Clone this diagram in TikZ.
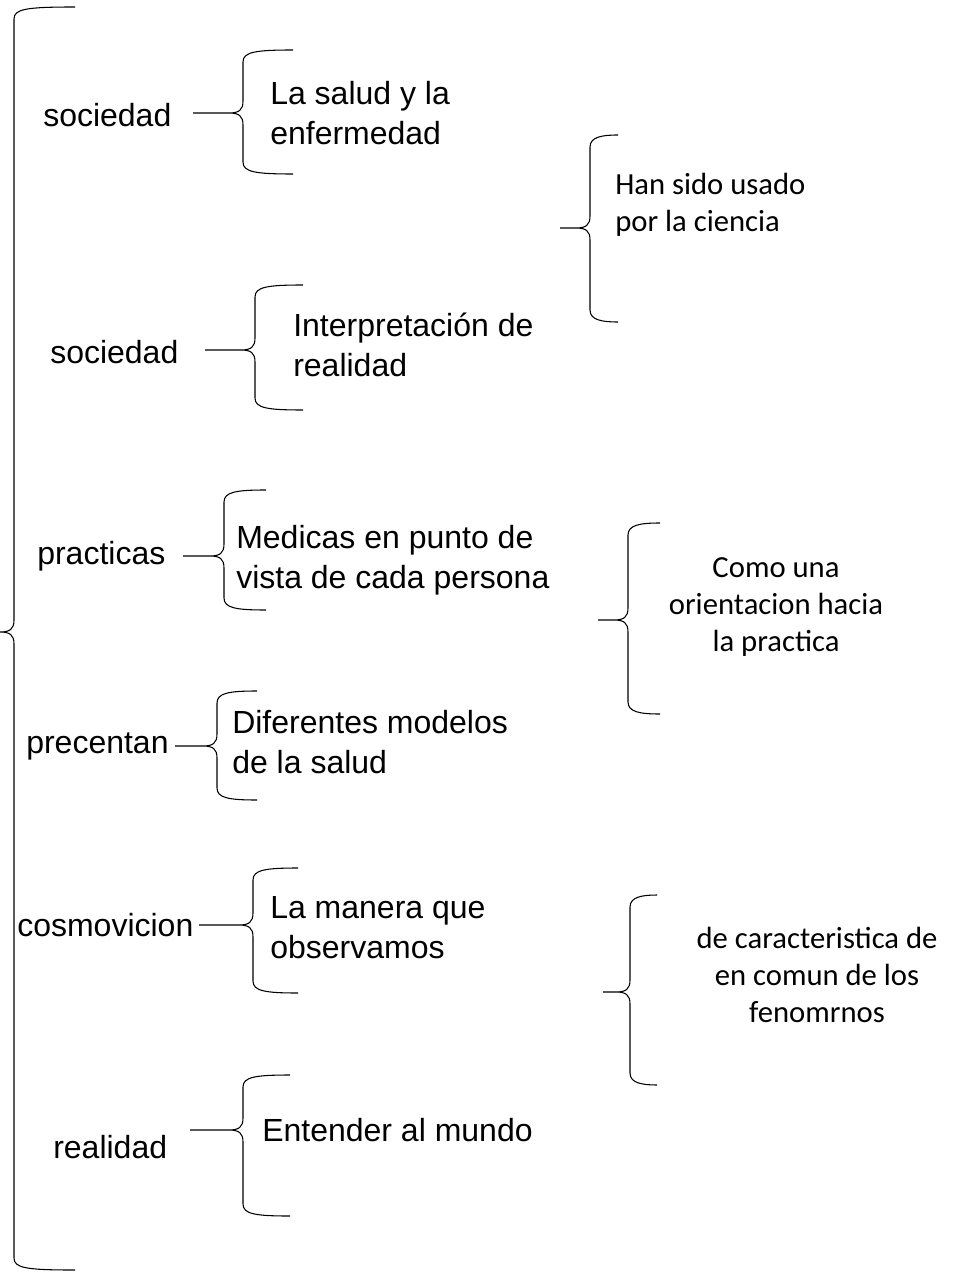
\documentclass[tikz,border=0pt]{standalone}
\usepackage{fontspec}
\setmainfont{Liberation Sans}
\newfontfamily\calibri{Carlito}
\usetikzlibrary{positioning}
% curly brace: tip x, tip y, line x, top y, bottom y, arm x
\newcommand{\curlybrace}[6]{%
  \draw[curly] (#6,#4) .. controls (#3+12,#4) and (#3,#4+2) .. (#3,#4+12)
    -- (#3,#2-12) .. controls (#3,#2-3) and (#3-4,#2) .. (#3-14,#2)
    .. controls (#3-4,#2) and (#3,#2+3) .. (#3,#2+12)
    -- (#3,#5-12) .. controls (#3,#5-2) and (#3+12,#5) .. (#6,#5)
    (#3-14,#2) -- (#1,#2);}

\begin{document}
\begin{tikzpicture}[x=0.75pt, y=-0.75pt]
\tikzstyle{lbl}=[font=\fontsize{24}{30}\selectfont, anchor=west, inner sep=0pt]
\tikzstyle{txt}=[font=\fontsize{24}{30}\selectfont, anchor=west, align=left, inner sep=0pt]
\tikzstyle{cal}=[font=\calibri\fontsize{23}{27.5}\selectfont, align=center, inner sep=0pt]
\tikzstyle{curly}=[line width=0.8pt, line join=round]
\useasboundingbox (0,0) rectangle (952,1276);
% big brace
\curlybrace{0}{632}{14}{7}{1270}{75}
% left column
\node[lbl] (soc1) at (43,115) {sociedad};
\node[lbl] (soc2) at (50,352) {sociedad};
\node[lbl] (prac) at (37,556) {practicas};
\node[lbl] (prec) at (26,746) {precentan};
\node[lbl] (cosm) at (17,925) {cosmovicion};
\node[lbl] (real) at (53,1147) {realidad};
% middle column
\curlybrace{193}{113}{243}{50}{174}{293}
\node[txt] (salud) at (270,113) {La salud y la\\enfermedad};
\curlybrace{205}{350}{255}{285}{410}{303}
\node[txt] (interp) at (293,345) {Interpretación de\\realidad};
\curlybrace{183}{556}{224}{490}{610}{266}
\node[txt] (medicas) at (236,560) {Medicas en punto de\\vista de cada persona};
\curlybrace{175}{746}{217}{691}{800}{257}
\node[txt] (modelos) at (232,742) {Diferentes modelos\\de la salud};
\curlybrace{199}{925}{253}{868}{993}{298}
\node[txt] (manera) at (270,928) {La manera que\\observamos};
\curlybrace{190}{1130}{243}{1075}{1216}{290}
\node[txt] (mundo) at (262,1130) {Entender al mundo};
% right column
\curlybrace{560}{228}{590}{135}{322}{618}
\node[cal, anchor=west, align=left] (ciencia) at (615,205) {Han sido usado\\por la ciencia};
\curlybrace{598}{620}{628}{523}{714}{660}
\node[cal] (orient) at (776,607) {Como una\\orientacion hacia\\la practica};
\curlybrace{603}{992}{630}{895}{1085}{657}
\node[cal] (fenom) at (817,975) {de caracteristica de\\en comun de los\\fenomrnos};
\end{tikzpicture}
\end{document}
